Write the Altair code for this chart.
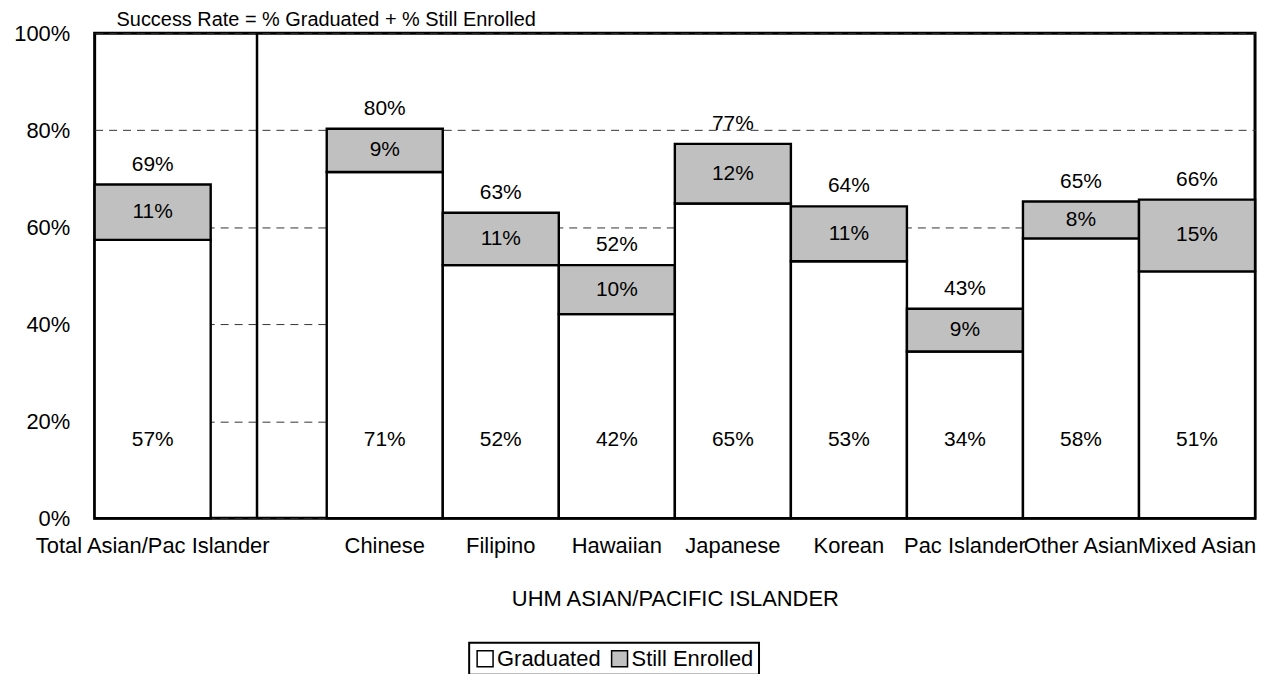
import altair as alt
import pandas as pd

# ---- data ----
categories = ["Total Asian/Pac Islander", "Chinese", "Filipino", "Hawaiian",
              "Japanese", "Korean", "Pac Islander", "Other Asian", "Mixed Asian"]
graduated = [57.4, 71.4, 52.2, 42.1, 64.9, 53.0, 34.4, 57.7, 50.9]
still_enrolled = [11.4, 8.9, 10.8, 10.1, 12.3, 11.3, 8.8, 7.6, 14.8]
series = ["Graduated", "Still Enrolled"]
series_colors = ["#ffffff", "#c0c0c0"]
slot_order = [categories[0], " "] + categories[1:]
y_ticks = [0, 20, 40, 60, 80, 100]

rows = []
for c, g, e in zip(categories, graduated, still_enrolled):
    rows.append({"cat": c, "status": series[0], "start": 0.0, "end": g})
    rows.append({"cat": c, "status": series[1], "start": g, "end": g + e})
bars_df = pd.DataFrame(rows)

summary = pd.DataFrame({"cat": categories, "grad": graduated, "enr": still_enrolled})
summary["total"] = summary["grad"] + summary["enr"]
summary["mid"] = summary["grad"] + summary["enr"] / 2
summary["zero"] = 0.0

FONT = "Liberation Sans"

x_enc = alt.X(
    "cat:N",
    sort=None,
    scale=alt.Scale(domain=slot_order, paddingInner=0, paddingOuter=0),
    axis=alt.Axis(title="UHM ASIAN/PACIFIC ISLANDER", labelAngle=0, ticks=False,
                  domain=False, grid=False, labelPadding=17, labelFontSize=22,
                  labelLimit=0, labelColor="black", titleFontSize=22,
                  titleFontWeight="normal", titleColor="black", titlePadding=33),
)
y_scale = alt.Scale(domain=[0, 100], nice=False)

bars = alt.Chart(bars_df).mark_bar(stroke="black", strokeWidth=2.4).encode(
    x=x_enc,
    y=alt.Y("start:Q", scale=y_scale, title=None,
            axis=alt.Axis(values=y_ticks, labelExpr="datum.value + '%'", ticks=False,
                          domain=False, labelPadding=25, labelFontSize=22,
                          labelColor="black", gridDash=[8, 6], gridColor="#333333",
                          gridWidth=1)),
    y2="end:Q",
    color=alt.Color("status:N", scale=alt.Scale(domain=series, range=series_colors),
                    legend=alt.Legend(title=None, orient="none", legendX=376, legendY=612,
                                      direction="horizontal", symbolType="square",
                                      symbolSize=256, symbolStrokeColor="black",
                                      symbolStrokeWidth=1.5, labelFontSize=22,
                                      labelColor="black", strokeColor="black",
                                      padding=5, columnPadding=8, labelOffset=1)),
)

separator = alt.Chart(pd.DataFrame({"a": [0]})).mark_rule(
    color="black", strokeWidth=2.5
).encode(x=alt.value(163), y=alt.value(0), y2=alt.value(487))

grad_text = alt.Chart(summary).transform_calculate(
    lbl="format(datum.grad, '.0f') + '%'"
).mark_text(fontSize=21, baseline="middle", dy=-79, color="black").encode(
    x=x_enc, y=alt.Y("zero:Q", title=None), text="lbl:N")

enr_text = alt.Chart(summary).transform_calculate(
    lbl="format(datum.enr, '.0f') + '%'"
).mark_text(fontSize=21, baseline="middle", color="black").encode(
    x=x_enc, y=alt.Y("mid:Q", title=None), text="lbl:N")

total_text = alt.Chart(summary).transform_calculate(
    lbl="format(datum.total, '.0f') + '%'"
).mark_text(fontSize=21, baseline="middle", dy=-20, color="black").encode(
    x=x_enc, y=alt.Y("total:Q", title=None), text="lbl:N")

chart = alt.layer(bars, separator, grad_text, enr_text, total_text).properties(
    width=1165,
    height=487,
    autosize=alt.AutoSizeParams(type="none"),
    padding={"left": 87, "top": 24, "right": 10, "bottom": 155},
    title=alt.TitleParams("Success Rate = % Graduated + % Still Enrolled", anchor="start",
                          frame="group", fontSize=20, fontWeight="normal", color="black",
                          dx=22, dy=13, offset=5),
).configure(font=FONT).configure_view(stroke="black", strokeWidth=3).configure_legend(
    strokeWidth=2
)

chart.save("out.html", embed_options={"renderer": "svg", "actions": False})
